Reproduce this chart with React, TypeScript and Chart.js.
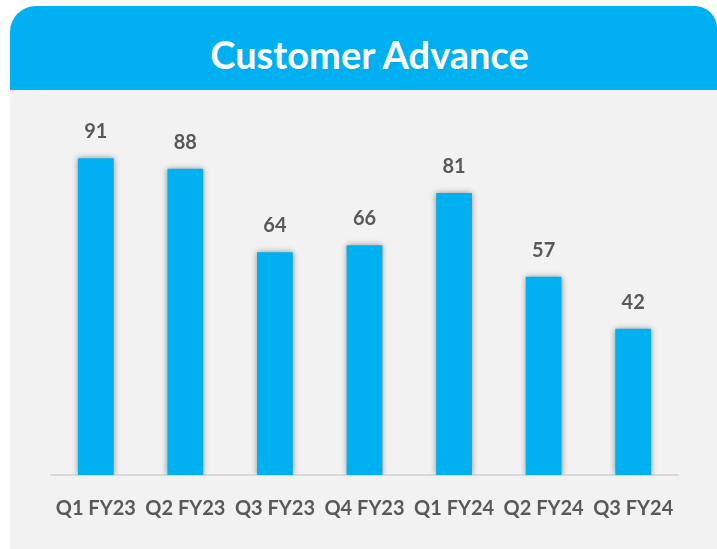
import React, { useEffect, useRef } from "react";
import { Chart, registerables } from "chart.js";

Chart.register(...registerables);

const categories = ["Q1 FY23", "Q2 FY23", "Q3 FY23", "Q4 FY23", "Q1 FY24", "Q2 FY24", "Q3 FY24"];
const values = [91, 88, 64, 66, 81, 57, 42];
const titleText = "Customer Advance";

const FONT = "Lato, 'Open Sans', sans-serif";
const BLUE = "#00b0f0";
const TEXT = "#595959";

const shadowPlugin = {
  id: "barShadow",
  beforeDatasetDraw(chart: any) {
    const ctx = chart.ctx;
    ctx.save();
    ctx.shadowColor = "rgba(0,0,0,0.4)";
    ctx.shadowBlur = 6;
    ctx.shadowOffsetX = 0;
    ctx.shadowOffsetY = 0;
  },
  afterDatasetDraw(chart: any) {
    chart.ctx.restore();
  },
};

const labelPlugin = {
  id: "valueLabels",
  afterDatasetsDraw(chart: any) {
    const ctx = chart.ctx;
    const meta = chart.getDatasetMeta(0);
    ctx.save();
    ctx.font = `bold 20px ${FONT}`;
    ctx.fillStyle = TEXT;
    ctx.textAlign = "center";
    ctx.textBaseline = "alphabetic";
    meta.data.forEach((bar: any, i: number) => {
      ctx.fillText(String(values[i]), bar.x, bar.y - 20);
    });
    ctx.restore();
  },
};

export default function App() {
  const ref = useRef<HTMLCanvasElement>(null);
  useEffect(() => {
    if (!ref.current) return;
    const chart = new Chart(ref.current, {
      type: "bar",
      data: {
        labels: categories,
        datasets: [
          {
            data: values,
            backgroundColor: BLUE,
            borderWidth: 0,
            barPercentage: 0.4,
            categoryPercentage: 1,
          },
        ],
      },
      options: {
        animation: false,
        responsive: false,
        maintainAspectRatio: false,
        layout: { padding: { left: 41, right: 39, top: 37, bottom: 14 } },
        plugins: { legend: { display: false }, tooltip: { enabled: false }, title: { display: false } },
        scales: {
          x: {
            grid: { display: false },
            border: { display: true, color: "#d9d9d9", width: 2 },
            ticks: {
              color: TEXT,
              font: { family: FONT, size: 20, weight: "bold" },
              padding: 14,
              maxRotation: 0,
              autoSkip: false,
            },
          },
          y: {
            display: false,
            min: 0,
            max: 100,
          },
        },
      },
      plugins: [shadowPlugin, labelPlugin],
    });
    return () => chart.destroy();
  }, []);

  return (
    <div style={{ position: "absolute", left: 0, top: 0, width: 717, height: 549, background: "#fff", overflow: "hidden" }}>
      <div
        style={{
          position: "absolute",
          left: 10,
          top: 6,
          width: 707,
          height: 84,
          background: BLUE,
          borderRadius: "26px 22px 0 0",
          display: "flex",
          alignItems: "center",
          justifyContent: "center",
        }}
      >
        <span style={{ color: "#fff", fontFamily: FONT, fontWeight: 700, fontSize: 38, lineHeight: 1, marginTop: 12, marginLeft: 12 }}>
          {titleText}
        </span>
      </div>
      <div style={{ position: "absolute", left: 10, top: 90, width: 707, height: 459, background: "#f2f2f2" }}>
        <canvas ref={ref} width={707} height={459} style={{ display: "block", width: 707, height: 459 }} />
      </div>
    </div>
  );
}
